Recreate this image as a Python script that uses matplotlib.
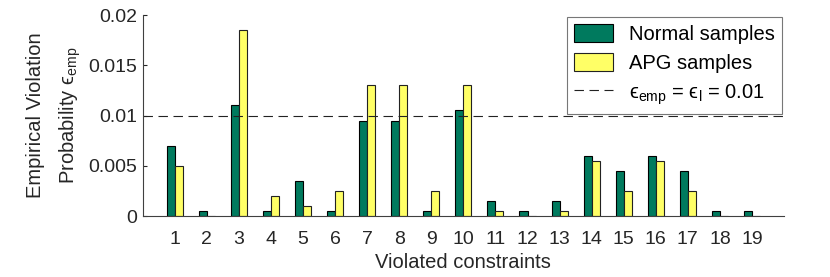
import numpy as np
import matplotlib.pyplot as plt

plt.rcParams['font.family'] = ['Liberation Sans', 'DejaVu Sans']
plt.rcParams['mathtext.fontset'] = 'custom'
plt.rcParams['mathtext.rm'] = 'Liberation Sans'
plt.rcParams['mathtext.it'] = 'DejaVu Sans'
plt.rcParams['mathtext.fallback'] = 'stixsans'

constraints = list(range(1, 20))
normal = [0.007, 0.0005, 0.011, 0.0005, 0.0035, 0.0005, 0.0095, 0.0095, 0.0005, 0.0105,
          0.0015, 0.0005, 0.0015, 0.006, 0.0045, 0.006, 0.0045, 0.0005, 0.0005]
apg = [0.005, 0.0, 0.0185, 0.002, 0.001, 0.0025, 0.013, 0.013, 0.0025, 0.013,
       0.0005, 0.0, 0.0005, 0.0055, 0.0025, 0.0055, 0.0025, 0.0, 0.0]
eps_limit = 0.01

eps = '\u03f5'

fig = plt.figure(figsize=(8.3, 2.77), dpi=100)
ax = fig.add_axes([0.172, 0.2202, 0.7726, 0.7256])

x = np.array(constraints)
w = 0.25
b1 = ax.bar(x - w / 2, normal, w, color='#007a5e', edgecolor='black', linewidth=0.8,
            label='Normal samples')
b2 = ax.bar(x + w / 2, apg, w, color='#ffff66', edgecolor='#222222', linewidth=0.8,
            label='APG samples')
ln = ax.axhline(eps_limit, color='#222222', linestyle=(0, (8.5, 5)), linewidth=0.8,
                label=r'$\mathrm{%s}_{\mathrm{emp}}$ = $\mathrm{%s}_{\mathrm{l}}$ = 0.01' % (eps, eps))

ax.set_xlim(0, 20)
ax.set_ylim(0, 0.02)
ax.set_xticks(x)
ax.set_xticklabels([str(c) for c in constraints])
ax.set_yticks([0, 0.005, 0.01, 0.015, 0.02])
ax.set_yticklabels(['0', '0.005', '0.01', '0.015', '0.02'])
ax.tick_params(axis='x', length=0, labelsize=14, pad=10.5, colors='#262626')
ax.tick_params(axis='y', direction='in', length=3, labelsize=14, pad=4, colors='#262626')
for s in ['top', 'right']:
    ax.spines[s].set_visible(False)
for s in ['left', 'bottom']:
    ax.spines[s].set_color('#404040')

ax.set_xlabel('Violated constraints', fontsize=14.5, color='#262626', labelpad=4)
ax.set_ylabel('Empirical Violation\n' + r'Probability $\mathrm{%s}_{\mathrm{emp}}$' % eps,
              fontsize=14.5, color='#262626', labelpad=3.5, linespacing=1.75)

leg = ax.legend(handles=[b1, b2, ln], loc='upper right', fontsize=14.5, frameon=True,
                fancybox=False, handlelength=1.95, handleheight=1.0, handletextpad=0.8,
                borderpad=0.35, labelspacing=0.45, borderaxespad=0.1)
leg.get_frame().set_edgecolor('#555555')
leg.get_frame().set_linewidth(0.8)

fig.savefig('out.png', dpi=100)
